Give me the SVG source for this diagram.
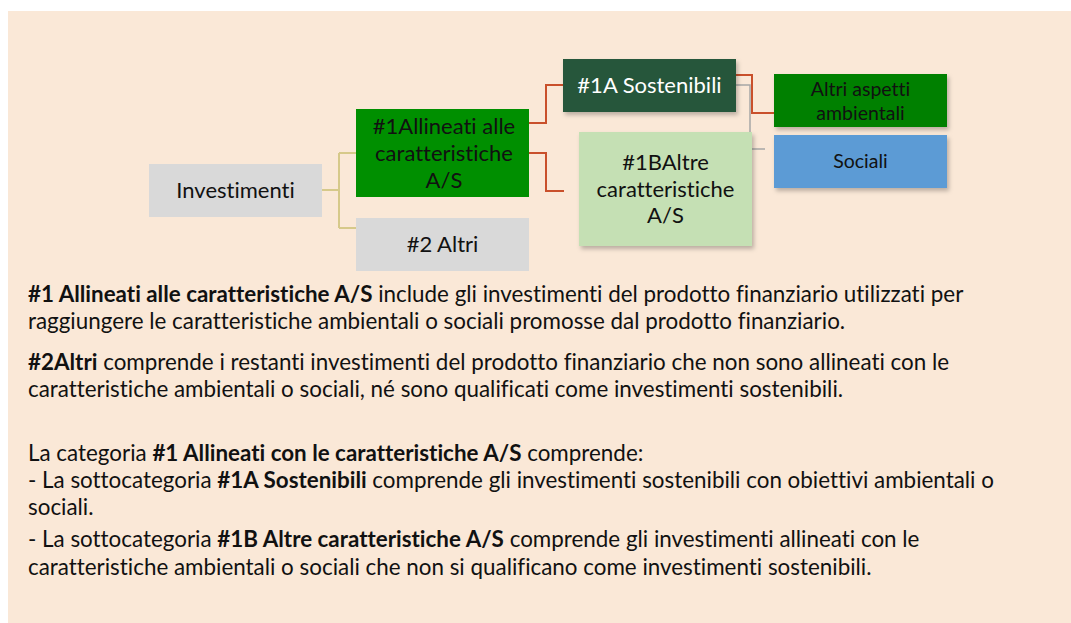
<svg xmlns="http://www.w3.org/2000/svg" width="1071" height="623" viewBox="0 0 1071 623">
<defs>
<filter id="sh" x="-10%" y="-10%" width="130%" height="140%">
<feDropShadow dx="2" dy="3" stdDeviation="2" flood-color="#000000" flood-opacity="0.25"/>
</filter>
<style>
text{font-variant-ligatures:none;font-feature-settings:"liga" 0,"clig" 0}
.node text{font-family:Lato,"Liberation Sans",sans-serif;text-anchor:middle;fill:#111}
.big{font-size:22px}
.small{font-size:19.5px}
.body{font-family:Lato,"Liberation Sans",sans-serif;font-size:22.4px;fill:#111}
.b{font-weight:bold}
.c-y{fill:none;stroke:#D6C98A;stroke-width:2}
.c-r{fill:none;stroke:#C9502B;stroke-width:2}
.c-g{fill:none;stroke:#A6A6A6;stroke-width:1.5}
</style>
</defs>
<rect x="0" y="0" width="1071" height="623" fill="#ffffff"/>
<rect x="8" y="11" width="1063" height="612" fill="#FAE8D7"/>

<g id="connectors">
<path class="c-y" d="M322,190 H339 M339,153 V228 M339,153 H356 M339,228 H356"/>
<path class="c-r" d="M529,123 H546 V85 H563"/>
<path class="c-r" d="M529,153 H546 V191 H564"/>
<path class="c-g" d="M736,85 H750 V149 H765"/>
<path class="c-r" d="M736,75 H752 V113 H774"/>
</g>

<g id="investimenti" class="node">
<rect x="149" y="164" width="173" height="53" fill="#D9D9D9"/>
<text class="big" x="235.5" y="198">Investimenti</text>
</g>
<g id="allineati" class="node">
<rect x="356" y="109" width="173" height="88" fill="#008F00"/>
<text class="big" x="444" y="134">#1Allineati alle</text>
<text class="big" x="444" y="161">caratteristiche</text>
<text class="big" x="444" y="188">A/S</text>
</g>
<g id="altri2" class="node">
<rect x="356" y="218" width="173" height="53" fill="#D9D9D9"/>
<text class="big" x="442.5" y="252">#2 Altri</text>
</g>
<g id="sostenibili" class="node">
<rect x="563" y="59" width="173" height="53" fill="#25573A" filter="url(#sh)"/>
<text class="big" x="649.5" y="93" style="fill:#ffffff">#1A Sostenibili</text>
</g>
<g id="altre1b" class="node">
<rect x="579" y="132" width="173" height="114" fill="#C5E0B4" filter="url(#sh)"/>
<text class="big" x="665.5" y="170">#1BAltre</text>
<text class="big" x="665.5" y="197">caratteristiche</text>
<text class="big" x="665.5" y="223">A/S</text>
</g>
<g id="ambientali" class="node">
<rect x="774" y="74" width="173" height="53" fill="#008000" filter="url(#sh)"/>
<text class="small" x="860.5" y="96">Altri aspetti</text>
<text class="small" x="860.5" y="120">ambientali</text>
</g>
<g id="sociali" class="node">
<rect x="774" y="135" width="173" height="53" fill="#5B9BD5" filter="url(#sh)"/>
<text class="small" x="860.5" y="168">Sociali</text>
</g>

<g id="testo">
<text class="body" x="28" y="302"><tspan class="b">#1 Allineati alle caratteristiche A/S</tspan> include gli investimenti del prodotto finanziario utilizzati per</text>
<text class="body" x="28" y="329">raggiungere le caratteristiche ambientali o sociali promosse dal prodotto finanziario.</text>
<text class="body" x="28" y="370"><tspan class="b">#2Altri</tspan> comprende i restanti investimenti del prodotto finanziario che non sono allineati con le</text>
<text class="body" x="28" y="397">caratteristiche ambientali o sociali, né sono qualificati come investimenti sostenibili.</text>
<text class="body" x="28" y="461">La categoria <tspan class="b">#1 Allineati con le caratteristiche A/S</tspan> comprende:</text>
<text class="body" x="28" y="488">- La sottocategoria <tspan class="b">#1A Sostenibili</tspan> comprende gli investimenti sostenibili con obiettivi ambientali o</text>
<text class="body" x="28" y="515">sociali.</text>
<text class="body" x="28" y="547">- La sottocategoria <tspan class="b">#1B Altre caratteristiche A/S</tspan> comprende gli investimenti allineati con le</text>
<text class="body" x="28" y="575">caratteristiche ambientali o sociali che non si qualificano come investimenti sostenibili.</text>
</g>
</svg>
